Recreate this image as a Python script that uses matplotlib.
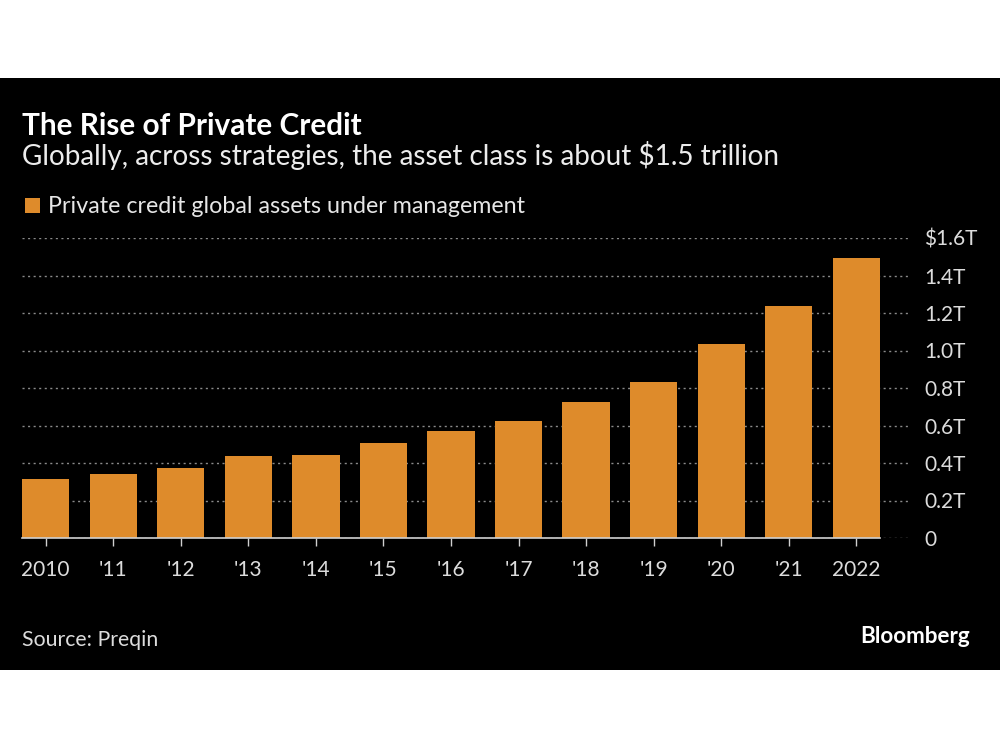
import matplotlib
matplotlib.use("Agg")
import matplotlib.pyplot as plt
from matplotlib.patches import Rectangle

# ---- data ----
years = ["2010", "'11", "'12", "'13", "'14", "'15", "'16", "'17", "'18", "'19", "'20", "'21", "2022"]
aum_trillions = [0.313, 0.341, 0.373, 0.437, 0.444, 0.508, 0.569, 0.624, 0.725, 0.832, 1.035, 1.237, 1.495]
y_ticks = [0, 0.2, 0.4, 0.6, 0.8, 1.0, 1.2, 1.4, 1.6]
y_tick_labels = ["0", "0.2T", "0.4T", "0.6T", "0.8T", "1.0T", "1.2T", "1.4T", "$1.6T"]

title = "The Rise of Private Credit"
subtitle = "Globally, across strategies, the asset class is about $1.5 trillion"
legend_label = "Private credit global assets under management"
source = "Source: Preqin"
brand = "Bloomberg"

BAR = "#DE8B2B"
FONT = ["Lato", "DejaVu Sans"]
plt.rcParams["font.family"] = FONT

W, H = 1000, 750
fig = plt.figure(figsize=(10, 7.5), dpi=100, facecolor="white")

def fx(px):
    return px / W

def fy(py):
    return 1 - py / H

# black panel
fig.patches.append(Rectangle((0, fy(670)), 1, fy(78) - fy(670), transform=fig.transFigure,
                             facecolor="black", edgecolor="none", zorder=-5))

ax = fig.add_axes([fx(22), fy(538), fx(908) - fx(22), fy(238) - fy(538)])
ax.set_zorder(2)
ax.set_facecolor("black")
x = list(range(len(years)))
ax.bar(x, aum_trillions, width=0.7, color=BAR, zorder=2)
ax.set_xlim(-0.35, len(years) - 1 + 0.765)
ax.set_ylim(0, 1.6)

ax.set_yticks(y_ticks)
ax.set_yticklabels(y_tick_labels)
ax.yaxis.tick_right()
ax.tick_params(axis="y", length=0, pad=11.5, labelsize=15, labelcolor="#dcdcdc")
ax.set_xticks(x)
ax.set_xticklabels(years)
ax.tick_params(axis="x", length=5.5, width=1, color="#d0d0d0", pad=10, labelsize=15, labelcolor="#dcdcdc")

ax.set_axisbelow(True)
ax.yaxis.grid(True, linestyle=(0, (1.5, 2.5)), color="#8a8a8a", linewidth=1)
ax.xaxis.grid(False)
for s in ["top", "left", "right"]:
    ax.spines[s].set_visible(False)
ax.spines["bottom"].set_color("#d0d0d0")
ax.spines["bottom"].set_linewidth(1.2)
ax.spines["bottom"].set_bounds(-0.35, len(years) - 1 + 0.35)
ax.spines["bottom"].set_zorder(3)

renderer = fig.canvas.get_renderer()

def fit(t, target_px):
    for _ in range(4):
        bb = t.get_window_extent(renderer=renderer)
        t.set_fontsize(t.get_fontsize() * target_px / bb.width)

t1 = fig.text(fx(22), fy(135), title, color="white", fontsize=18, fontweight="bold", va="baseline")
fit(t1, 360 - 22)
t2 = fig.text(fx(22), fy(165), subtitle, color="#ececec", fontsize=18, va="baseline")
fit(t2, 778 - 22)
fig.patches.append(Rectangle((fx(25), fy(213)), fx(15), fy(198) - fy(213), transform=fig.transFigure,
                             facecolor=BAR, edgecolor="none", zorder=1))
t3 = fig.text(fx(48), fy(213), legend_label, color="#e6e6e6", fontsize=15, va="baseline")
fit(t3, 525 - 48)
t4 = fig.text(fx(22), fy(646), source, color="#dcdcdc", fontsize=14, va="baseline")
fit(t4, 158 - 22)
t5 = fig.text(fx(970), fy(643), brand, color="white", fontsize=15, fontweight="bold", va="baseline", ha="right")
fit(t5, 970 - 860)

fig.savefig("out.png", dpi=100, facecolor="white")
